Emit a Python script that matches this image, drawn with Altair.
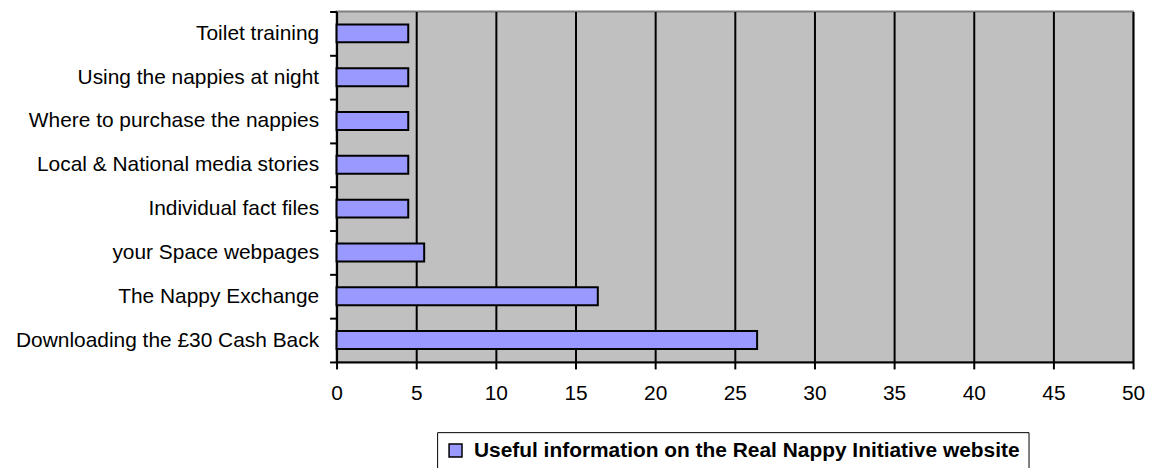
import altair as alt
import pandas as pd

categories = [
    "Toilet training",
    "Using the nappies at night",
    "Where to purchase the nappies",
    "Local & National media stories",
    "Individual fact files",
    "your Space webpages",
    "The Nappy Exchange",
    "Downloading the £30 Cash Back",
]
values = [4.5, 4.5, 4.5, 4.5, 4.5, 5.5, 16.4, 26.4]
series_name = "Useful information on the Real Nappy Initiative website"
x_ticks = [0, 5, 10, 15, 20, 25, 30, 35, 40, 45, 50]

df = pd.DataFrame({"category": categories, "value": values, "series": [series_name] * len(categories)})

FONT = "Liberation Sans"

chart = alt.Chart(df).mark_bar(
    stroke="black", strokeWidth=2, size=18
).encode(
    x=alt.X(
        "value:Q",
        scale=alt.Scale(domain=[0, 50], nice=False, zero=True),
        axis=alt.Axis(
            title=None, values=x_ticks, grid=True, gridColor="black", gridWidth=2,
            gridOpacity=1, domainColor="black", domainWidth=2, tickColor="black",
            tickWidth=2, tickSize=7, labelFont=FONT, labelFontSize=21, labelColor="black",
            labelPadding=14, labelFlush=False,
        ),
    ),
    y=alt.Y(
        "category:N",
        sort=categories,
        scale=alt.Scale(paddingInner=0, paddingOuter=0),
        axis=alt.Axis(
            title=None, grid=False, tickBand="extent", domainColor="black", domainWidth=2,
            tickColor="black", tickWidth=2, tickSize=7, labelFont=FONT, labelFontSize=21,
            labelColor="black", labelPadding=11, labelLimit=0,
        ),
    ),
    color=alt.Color(
        "series:N",
        scale=alt.Scale(range=["#9999FF"]),
        legend=alt.Legend(
            title=None, orient="none", legendX=101, legendY=422.5, symbolType="square",
            symbolSize=169, symbolStrokeColor="black", symbolStrokeWidth=1.5,
            labelFont=FONT, labelFontWeight="bold", labelFontSize=21, labelColor="black",
            labelLimit=0, labelOffset=8, strokeColor="black", padding=8, fillColor="white",
        ),
    ),
).properties(
    width=800,
    height=352,
    autosize=alt.AutoSizeParams(type="none"),
    padding={"left": 330, "top": 2.5, "right": 14, "bottom": 105},
    background="white",
).configure_view(
    fill="#C0C0C0", stroke="#808080", strokeWidth=2
)

chart.save("out.html", embed_options={"renderer": "svg", "actions": False})
